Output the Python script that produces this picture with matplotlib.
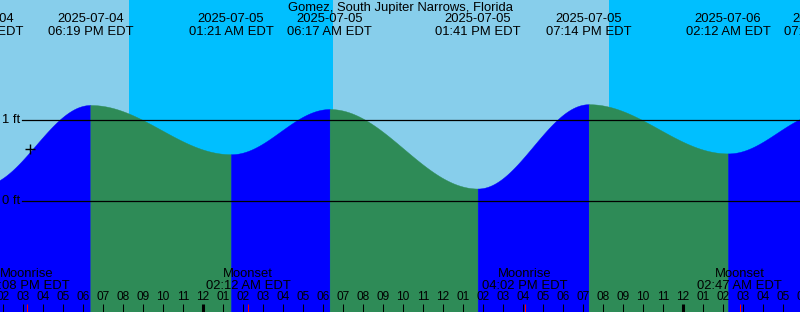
import numpy as np
import matplotlib.pyplot as plt
import matplotlib.transforms as mtransforms

plt.rcParams['font.family'] = ['Liberation Sans', 'DejaVu Sans']

station = "Gomez, South Jupiter Narrows, Florida"

# hours relative to 2025-07-05 00:00 EDT
tide_hours = [-11.15, -5.683, 1.35, 6.283, 13.683, 19.233, 26.2, 31.1]
tide_feet = [0.19, 1.19, 0.58, 1.14, 0.155, 1.20, 0.59, 1.10]
tide_dates = ["2025-07-04", "2025-07-04", "2025-07-05", "2025-07-05",
              "2025-07-05", "2025-07-05", "2025-07-06", "2025-07-06"]
tide_times = ["12:51 PM EDT", "06:19 PM EDT", "01:21 AM EDT", "06:17 AM EDT",
              "01:41 PM EDT", "07:14 PM EDT", "02:12 AM EDT", "07:06 AM EDT"]

# sunset, sunrise, sunset
sun_hours = [-3.75, 6.45, 20.25]

moon_hours = [-8.867, 2.2, 16.033, 26.783]
moon_events = ["Moonrise", "Moonset", "Moonrise", "Moonset"]
moon_times = ["03:08 PM EDT", "02:12 AM EDT", "04:02 PM EDT", "02:47 AM EDT"]

now_hour, now_feet = -8.7, 0.64

x_min, x_max = -10.2, 29.8
y_min, y_max = -1.375, 2.491

day_col = "#87ceeb"
night_col = "#00bfff"
flood_col = "#0000ff"
ebb_col = "#2e8b57"

fig = plt.figure(figsize=(8, 3.12), dpi=100)
ax = fig.add_axes([0, 0, 1, 1])
ax.set_xlim(x_min, x_max)
ax.set_ylim(y_min, y_max)
ax.axis("off")

# day / night background
edges = [x_min] + sun_hours + [x_max]
for i in range(len(edges) - 1):
    ax.axvspan(edges[i], edges[i + 1], color=day_col if i % 2 == 0 else night_col, lw=0)

# tide curve, cosine shape between extremes
for i in range(len(tide_hours) - 1):
    h0, h1 = tide_hours[i], tide_hours[i + 1]
    f0, f1 = tide_feet[i], tide_feet[i + 1]
    t = np.linspace(h0, h1, 300)
    y = f0 + (f1 - f0) * (1 - np.cos(np.pi * (t - h0) / (h1 - h0))) / 2
    c = flood_col if f1 > f0 else ebb_col
    ax.fill_between(t, y_min, y, color=c, lw=0.3, edgecolor=c)

# datum lines
for lvl, lab in [(0, "0 ft"), (1, "1 ft")]:
    ax.axhline(lvl, xmin=22 / 800, xmax=1, color="black", lw=0.9)
    ax.text(x_min + 2 / 20, lvl, lab, ha="left", va="center", fontsize=9.4)

ax.plot(now_hour, now_feet, marker="+", color="black", ms=7, mew=1)

axfrac = mtransforms.blended_transform_factory(ax.transData, ax.transAxes)

def ypx(p):
    return 1 - p / 312

fs = 9.4
ax.text(0.5, ypx(7.5), station, transform=ax.transAxes, ha="center", va="center", fontsize=fs)
for h, d, tm in zip(tide_hours, tide_dates, tide_times):
    ax.text(h, ypx(19.5), d, transform=axfrac, ha="center", va="center", fontsize=fs)
    ax.text(h, ypx(32), tm, transform=axfrac, ha="center", va="center", fontsize=fs)

for h, ev, tm in zip(moon_hours, moon_events, moon_times):
    ax.text(h, ypx(274), ev, transform=axfrac, ha="center", va="center", fontsize=fs)
    ax.text(h, ypx(286), tm, transform=axfrac, ha="center", va="center", fontsize=fs)

# hour ticks
for h in range(-10, 31):
    lab = "%02d" % ((h % 12) or 12)
    ax.text(h - 0.05, ypx(297.5), lab, transform=axfrac, ha="center", va="center", fontsize=8.6)
    lw = 2.2 if h % 24 == 0 else 0.75
    ax.plot([h - 0.05, h - 0.05], [0, 8 / 312], transform=axfrac, color="black", lw=lw, solid_capstyle="butt")

for h in moon_hours:
    ax.plot([h, h], [0, 8 / 312], transform=axfrac, color="red", lw=0.75, solid_capstyle="butt")

fig.savefig("out.png", dpi=100)
